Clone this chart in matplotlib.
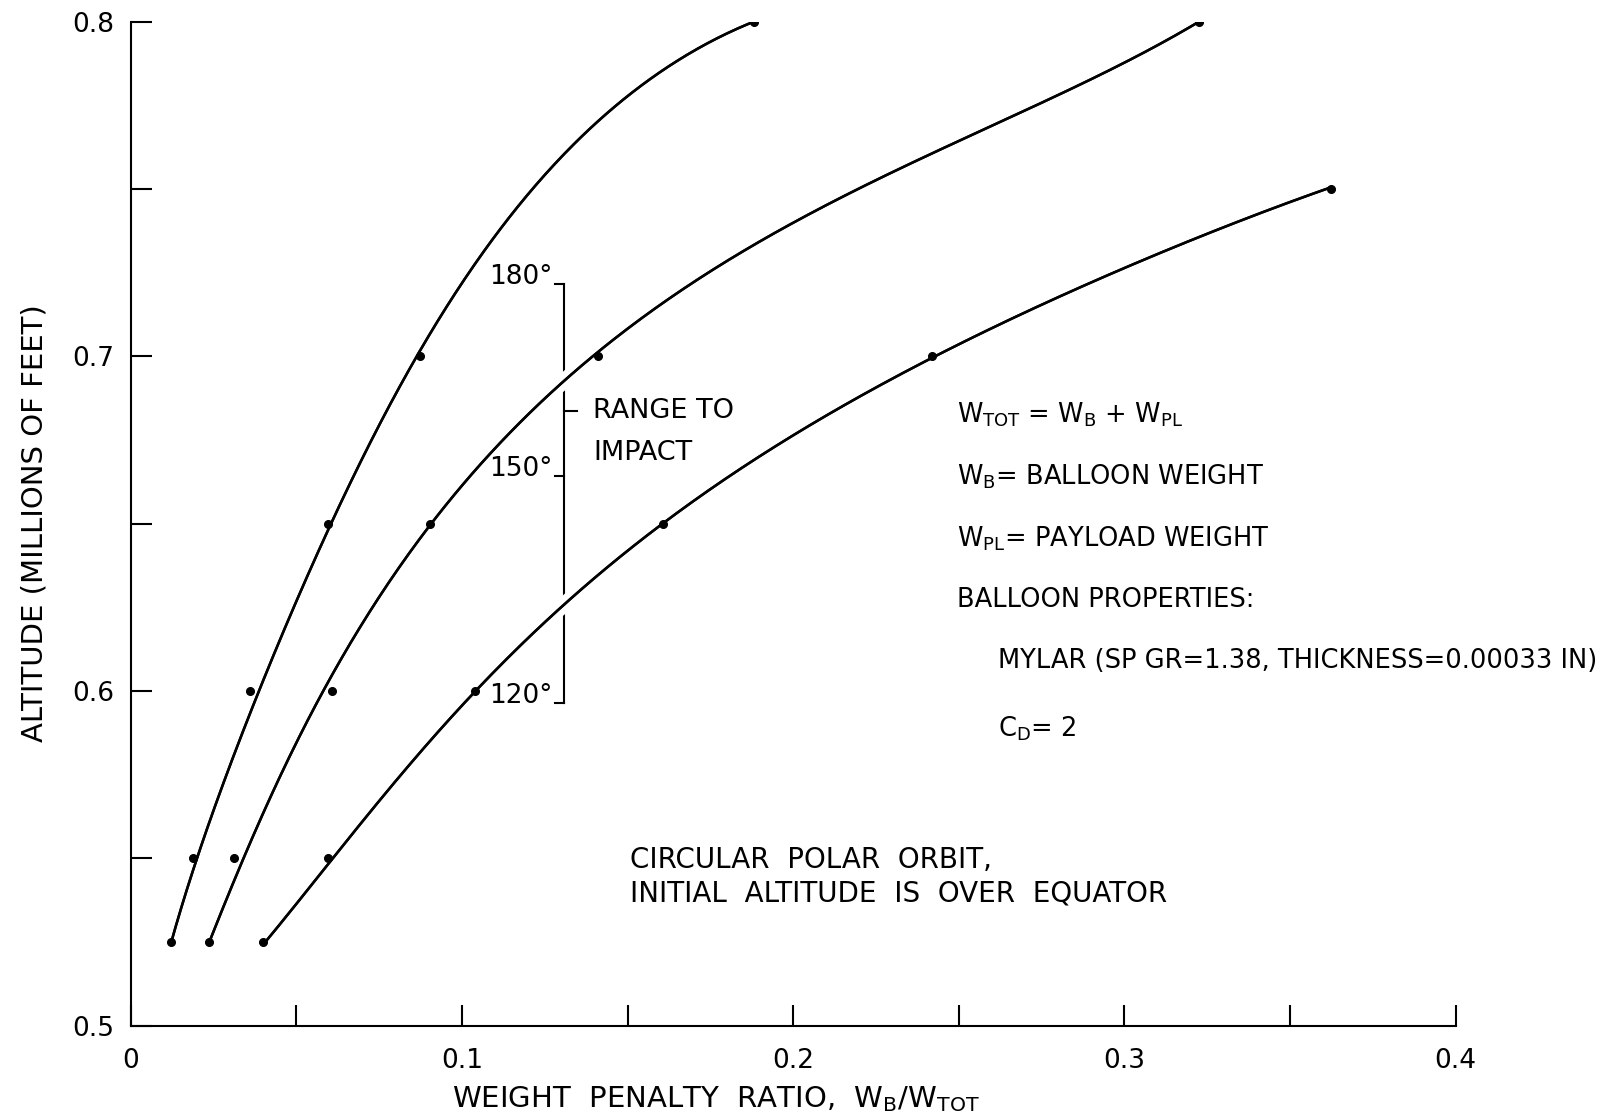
import numpy as np
import matplotlib.pyplot as plt
import matplotlib.patheffects as pe
from matplotlib.ticker import MultipleLocator

plt.rcParams['font.family'] = ['DejaVu Sans']
plt.rcParams['mathtext.default'] = 'regular'

# plotted dots: weight penalty ratio vs altitude (millions of ft)
alt_a = [0.525, 0.55, 0.60, 0.65, 0.70, 0.80]
ratio_a = [0.0122, 0.0189, 0.0360, 0.0597, 0.0874, 0.1882]
alt_b = [0.525, 0.55, 0.60, 0.65, 0.70, 0.80]
ratio_b = [0.0237, 0.0313, 0.0607, 0.0904, 0.1412, 0.3225]
alt_c = [0.525, 0.55, 0.60, 0.65, 0.70, 0.75]
ratio_c = [0.0401, 0.0597, 0.1040, 0.1606, 0.2418, 0.3624]

# the faired curves (they don't hit every dot)
curve_a_x = [0.0122, 0.0197, 0.0285, 0.0391, 0.0491, 0.0597, 0.0733, 0.0874,
             0.0989, 0.1124, 0.1257, 0.1408, 0.1499, 0.1659, 0.1879]
curve_a_y = [0.5247, 0.5495, 0.5733, 0.6000, 0.6252, 0.6503, 0.6753, 0.6995,
             0.7218, 0.7386, 0.7548, 0.7715, 0.7775, 0.7876, 0.7999]
curve_b_x = [0.0237, 0.0250, 0.0328, 0.0436, 0.0597, 0.0728, 0.0906, 0.1085,
             0.1286, 0.1412, 0.1716, 0.2059, 0.2313, 0.2567, 0.2821, 0.3075, 0.3225]
curve_b_y = [0.5247, 0.5306, 0.5495, 0.5733, 0.5998, 0.6232, 0.6501, 0.6718,
             0.6919, 0.7001, 0.7238, 0.7427, 0.7557, 0.7676, 0.7791, 0.7906, 0.8000]
curve_c_x = [0.0401, 0.0597, 0.0833, 0.0934, 0.1040, 0.1286, 0.1538, 0.1606,
             0.1880, 0.2182, 0.2418, 0.2567, 0.2821, 0.3075, 0.3289, 0.3624]
curve_c_y = [0.5243, 0.5492, 0.5749, 0.5894, 0.6000, 0.6245, 0.6446, 0.6496,
             0.6694, 0.6860, 0.6999, 0.7069, 0.7188, 0.7297, 0.7377, 0.7505]

# range-to-impact scale (degrees) against altitude
range_deg = [180, 150, 120]
range_alt = [0.7216, 0.6642, 0.5964]
range_x = 0.1308
range_label_alt = 0.6836

notes = [
    r"W$_{TOT}$ = W$_B$ + W$_{PL}$",
    r"W$_B$= BALLOON WEIGHT",
    r"W$_{PL}$= PAYLOAD WEIGHT",
    "BALLOON PROPERTIES:",
    "MYLAR (SP GR=1.38, THICKNESS=0.00033 IN)",
    r"C$_D$= 2",
]
note_alt = [0.6826, 0.6641, 0.6456, 0.6273, 0.6088, 0.5888]
note_x = [0.2494, 0.2494, 0.2494, 0.2494, 0.2618, 0.2618]


def fair_curve(xs, ys, deg=5, end_w=8):
    # parametric least-squares fit along chord length, ends weighted so the
    # line starts and stops on the end dots
    xs, ys = np.asarray(xs), np.asarray(ys)
    t = np.concatenate([[0], np.cumsum(np.hypot(np.diff(xs), np.diff(ys)))])
    t = t / t[-1]
    w = np.ones(len(xs))
    w[0] = w[-1] = end_w
    tt = np.linspace(0, 1, 400)
    fx = np.polyval(np.polyfit(t, xs, deg, w=w), tt)
    fy = np.polyval(np.polyfit(t, ys, deg, w=w), tt)
    return fx, fy


fig = plt.figure(figsize=(16.13, 11.19), dpi=100)
ax = fig.add_axes([0.081, 0.0835, 0.8215, 0.8972])

# bracket goes underneath, the curves' white halo breaks it where they cross
hook = 0.0027
ax.plot([range_x, range_x], [range_alt[0], range_alt[-1]], color='black', lw=1.5, zorder=1)
for a in range_alt:
    ax.plot([range_x - hook, range_x], [a, a], color='black', lw=1.5, zorder=1)
ax.plot([range_x, range_x + 0.004], [range_label_alt, range_label_alt], color='black', lw=1.5, zorder=1)
for d, a in zip(range_deg, range_alt):
    ax.text(range_x - 0.0035, a + 0.002, f"{d}°", ha='right', va='center', fontsize=19, zorder=5)
ax.text(0.1396, range_label_alt, "RANGE TO", ha='left', va='center', fontsize=19.5)
ax.text(0.1396, 0.6711, "IMPACT", ha='left', va='center', fontsize=19.5)

halo = [pe.withStroke(linewidth=11, foreground='white'), pe.Normal()]
for cx, cy, deg, ew in [(curve_a_x, curve_a_y, 5, 8), (curve_b_x, curve_b_y, 4, 5),
                        (curve_c_x, curve_c_y, 5, 8)]:
    fx, fy = fair_curve(cx, cy, deg, ew)
    line, = ax.plot(fx, fy, color='black', lw=1.8, zorder=3)
    line.set_path_effects(halo)
for ratio, alt in [(ratio_a, alt_a), (ratio_b, alt_b), (ratio_c, alt_c)]:
    ax.plot(ratio, alt, 'o', color='black', ms=5.5, zorder=4)

for t, x, a in zip(notes, note_x, note_alt):
    ax.text(x, a, t, ha='left', va='center', fontsize=18.5)

ax.text(0.1506, 0.5495, "CIRCULAR  POLAR  ORBIT,", ha='left', va='center', fontsize=20)
ax.text(0.1506, 0.5396, "INITIAL  ALTITUDE  IS  OVER  EQUATOR", ha='left', va='center', fontsize=20)

ax.set_xlim(0, 0.4)
ax.set_ylim(0.5, 0.8)
ax.xaxis.set_minor_locator(MultipleLocator(0.05))
ax.yaxis.set_minor_locator(MultipleLocator(0.05))
ax.set_xticks([0, 0.1, 0.2, 0.3, 0.4])
ax.set_xticklabels(["0", "0.1", "0.2", "0.3", "0.4"])
ax.set_yticks([0.5, 0.6, 0.7, 0.8])
ax.set_yticklabels(["0.5", "0.6", "0.7", "0.8"])
ax.tick_params(which='both', direction='in', length=15, width=1.5, labelsize=19)
ax.tick_params(axis='x', which='both', pad=16)
ax.tick_params(axis='y', which='both', pad=12)

for s in ['top', 'right']:
    ax.spines[s].set_visible(False)
for s in ['left', 'bottom']:
    ax.spines[s].set_linewidth(1.5)

ax.set_xlabel(r"WEIGHT  PENALTY  RATIO,  W$_B$/W$_{TOT}$", fontsize=21)
ax.xaxis.set_label_coords(0.442, -0.058)
ax.set_ylabel("ALTITUDE (MILLIONS OF FEET)", fontsize=21)
ax.yaxis.set_label_coords(-0.062, 0.5)

fig.savefig("out.png", dpi=100)
